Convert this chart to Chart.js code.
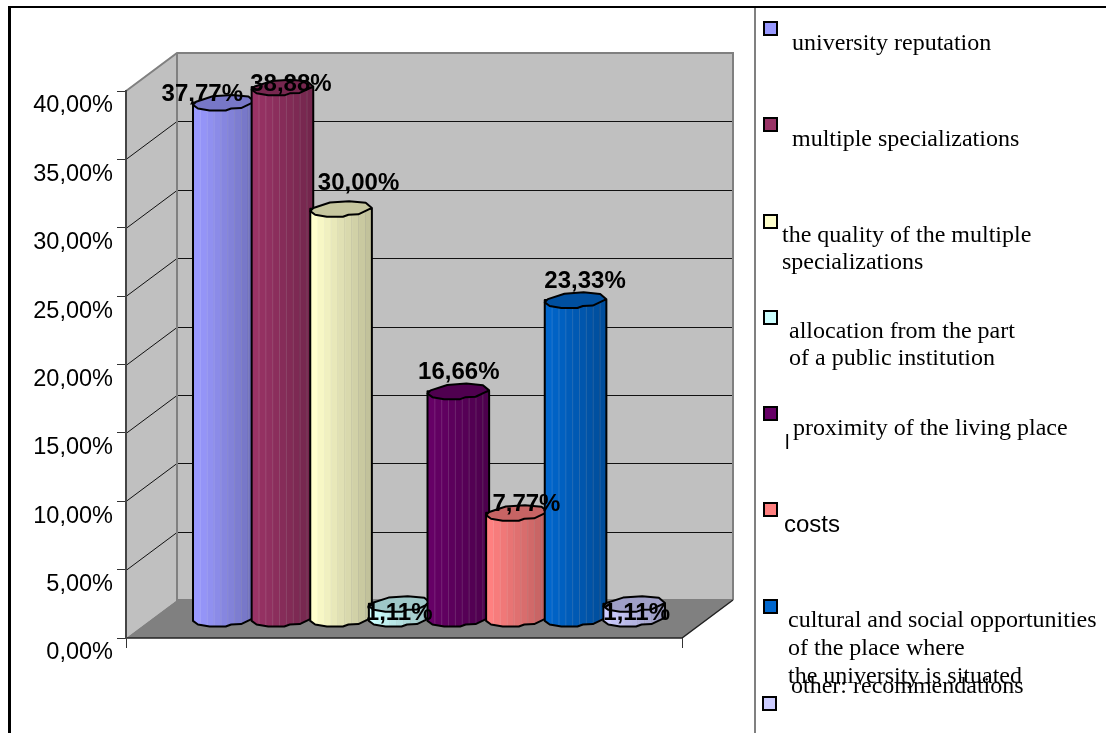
<!DOCTYPE html>
<html>
<head>
<meta charset="utf-8">
<title>Chart</title>
<script src="https://cdn.jsdelivr.net/npm/chart.js@4"></script>
<style>
    html, body { margin: 0; padding: 0; background: #fff; overflow: hidden; }
    canvas { display: block; }
</style>
</head>
<body>
<canvas id="myChart" width="1106" height="733"></canvas>
<script>
// Data
const categories = ['university reputation', 'multiple specializations', 'the quality of the multiple specializations',
    'allocation from the part of a public institution', 'proximity of the living place', 'costs',
    'cultural and social opportunities of the place where the university is situated', 'other: recommendations'];
const seriesValues = [37.77, 38.88, 30.00, 1.11, 16.66, 7.77, 23.33, 1.11];
const valueLabels = ['37,77%', '38,88%', '30,00%', '1,11%', '16,66%', '7,77%', '23,33%', '1,11%'];
const yTickLabels = ['0,00%', '5,00%', '10,00%', '15,00%', '20,00%', '25,00%', '30,00%', '35,00%', '40,00%'];
const seriesColors = ['#9999FF', '#993366', '#FFFFCC', '#CCFFFF', '#660066', '#FF8080', '#0066CC', '#CCCCFF'];

// Layout of the fake 3D box
const depthX = 51, depthY = -38;     // front plane -> back wall
const barShiftX = 23.5, barShiftY = -19; // bars stand in the middle of the floor
const capH = 8;

// Hand placed labels, the source chart has them all over the place
const labelNudge = [[-20, -8], [10, -3], [19, -25], [1, 10], [2, -19], [11, -8], [11, -19], [4, 10]];

// Legend is placed by hand as well: swatch [x, y], then text lines [x, baseline, text]
const legendSwatches = [[764, 22], [764, 118], [764, 215], [764, 311], [764, 407], [764, 503], [764, 600], [763, 697]];
const legendLines = [
    [792, 50, 'university reputation'],
    [792, 146, 'multiple specializations'],
    [782, 242, 'the quality of the multiple'],
    [782, 269, 'specializations'],
    [789, 338, 'allocation from the part'],
    [789, 365, 'of a public institution'],
    [793, 435, 'proximity of the living place'],
    [788, 627, 'cultural and social opportunities'],
    [788, 655, 'of the place where'],
    [788, 683, 'the university is situated'],
    [791, 693, 'other: recommendations']
];

const upperEdge = [[1, -0.1], [0.9, -0.75], [0.63, -0.95], [0.32, -0.78], [0.05, -0.1], [0, 0.3]];
const lowerEdge = [[0, 0.3], [0.08, 0.75], [0.27, 1], [0.53, 1], [0.62, 0.75], [0.78, 0.7], [1, -0.1]];

function edge(ctx, pts, x0, w, yc, first) {
    pts.forEach(function (p, i) {
        const px = x0 + p[0] * w, py = yc + p[1] * capH;
        if (i === 0 && first) ctx.moveTo(px, py); else ctx.lineTo(px, py);
    });
}

// Turn a flat bar into the bumpy cylinder
function drawCylinder(ctx, el, color) {
    const x0 = el.x - el.width / 2, w = el.width + 3;

    ctx.beginPath();
    edge(ctx, [[0, 0]], x0, w, el.y, true);
    edge(ctx, lowerEdge, x0, w, el.base, false);
    edge(ctx, [[1, 0]], x0, w, el.y, false);
    ctx.closePath();
    ctx.fillStyle = color;
    ctx.fill();

    ctx.save();
    ctx.clip();
    const bands = 9;
    for (let b = 0; b < bands; b++) {
        ctx.fillStyle = 'rgba(0,0,0,' + (0.24 * b / (bands - 1)) + ')';
        ctx.fillRect(x0 + w * b / bands, el.y - capH, w / bands + 0.5, el.base - el.y + capH * 2);
        if (b > 0) {
            ctx.fillStyle = 'rgba(255,255,255,0.14)';
            ctx.fillRect(x0 + w * b / bands, el.y - capH, 1, el.base - el.y + capH * 2);
        }
    }
    ctx.restore();

    ctx.strokeStyle = '#000';
    ctx.lineWidth = 2;
    ctx.lineJoin = 'round';
    ctx.stroke();

    ctx.beginPath();
    edge(ctx, upperEdge, x0, w, el.y, true);
    edge(ctx, lowerEdge, x0, w, el.y, false);
    ctx.closePath();
    ctx.fillStyle = color;
    ctx.fill();
    ctx.fillStyle = 'rgba(0,0,0,0.22)';
    ctx.fill();
    ctx.stroke();
}

const box3d = {
    id: 'box3d',
    beforeDraw(chart) {
        const ctx = chart.ctx, y = chart.scales.y, a = chart.chartArea;
        const top = y.getPixelForValue(40), bot = y.getPixelForValue(0);

        ctx.save();
        // side wall and back wall
        ctx.fillStyle = '#C0C0C0';
        ctx.beginPath();
        ctx.moveTo(a.left, top); ctx.lineTo(a.left + depthX, top + depthY);
        ctx.lineTo(a.right + depthX, top + depthY); ctx.lineTo(a.right + depthX, bot + depthY);
        ctx.lineTo(a.left + depthX, bot + depthY); ctx.lineTo(a.left, bot);
        ctx.closePath(); ctx.fill();
        // floor
        ctx.fillStyle = '#808080';
        ctx.beginPath();
        ctx.moveTo(a.left, bot); ctx.lineTo(a.left + depthX, bot + depthY);
        ctx.lineTo(a.right + depthX, bot + depthY); ctx.lineTo(a.right, bot);
        ctx.closePath(); ctx.fill();

        // gridlines go round the corner
        ctx.strokeStyle = '#111'; ctx.lineWidth = 1;
        y.ticks.forEach(function (t) {
            if (t.value === 0 || t.value === 40) return;
            const py = Math.round(y.getPixelForValue(t.value)) + 0.5;
            ctx.beginPath();
            ctx.moveTo(a.left, py); ctx.lineTo(a.left + depthX, py + depthY);
            ctx.lineTo(a.right + depthX, py + depthY);
            ctx.stroke();
        });

        // wall edges
        ctx.strokeStyle = '#808080'; ctx.lineWidth = 2;
        ctx.beginPath();
        ctx.moveTo(a.left, top); ctx.lineTo(a.left + depthX, top + depthY);
        ctx.lineTo(a.right + depthX, top + depthY); ctx.lineTo(a.right + depthX, bot + depthY);
        ctx.moveTo(a.left + depthX, top + depthY); ctx.lineTo(a.left + depthX, bot + depthY);
        ctx.lineTo(a.right + depthX, bot + depthY);
        ctx.stroke();

        // floor edges and the two bottom ticks
        ctx.strokeStyle = '#222'; ctx.lineWidth = 1.5;
        ctx.beginPath();
        ctx.moveTo(a.left, bot); ctx.lineTo(a.right, bot); ctx.lineTo(a.right + depthX, bot + depthY);
        ctx.stroke();
        ctx.strokeStyle = '#333'; ctx.lineWidth = 1;
        ctx.beginPath();
        ctx.moveTo(a.left + 0.5, bot); ctx.lineTo(a.left + 0.5, bot + 10);
        ctx.moveTo(a.right + 0.5, bot); ctx.lineTo(a.right + 0.5, bot + 10);
        ctx.stroke();

        // frame round the picture
        ctx.fillStyle = '#000';
        ctx.fillRect(8, 6, 1098, 2);
        ctx.fillRect(8, 6, 3, 727);
        ctx.fillStyle = '#808080';
        ctx.fillRect(754, 8, 2, 725);
        ctx.restore();
    },
    beforeDatasetDraw(chart) {
        chart.ctx.save();
        chart.ctx.translate(barShiftX, barShiftY);
    },
    afterDatasetDraw(chart) {
        chart.ctx.restore();
    },
    afterDatasetsDraw(chart) {
        const ctx = chart.ctx;
        // left to right, each bar overlaps the one before it
        ctx.save();
        ctx.translate(barShiftX, barShiftY);
        seriesColors.forEach(function (color, i) {
            drawCylinder(ctx, chart.getDatasetMeta(i).data[0], color);
        });
        ctx.restore();

        // value labels on top of everything
        ctx.save();
        ctx.font = 'bold 24px "Liberation Sans"';
        ctx.fillStyle = '#000';
        ctx.textAlign = 'center';
        ctx.textBaseline = 'middle';
        valueLabels.forEach(function (txt, i) {
            const el = chart.getDatasetMeta(i).data[0];
            ctx.fillText(txt, el.x + barShiftX + labelNudge[i][0], el.y + barShiftY + labelNudge[i][1]);
        });
        ctx.restore();
    },
    afterDraw(chart) {
        // legend
        const ctx = chart.ctx;
        ctx.save();
        legendSwatches.forEach(function (s, i) {
            ctx.fillStyle = seriesColors[i];
            ctx.fillRect(s[0], s[1], 13, 13);
            ctx.strokeStyle = '#000';
            ctx.lineWidth = 2;
            ctx.strokeRect(s[0], s[1], 13, 13);
        });
        ctx.fillStyle = '#000';
        ctx.textAlign = 'left';
        ctx.textBaseline = 'alphabetic';
        ctx.font = '24px "Liberation Serif"';
        legendLines.forEach(function (l) {
            ctx.fillText(l[2], l[0], l[1]);
        });
        ctx.font = '24px "Liberation Sans"';
        ctx.fillText('costs', 784, 532);
        ctx.font = '20px "Liberation Sans"';
        ctx.fillText('l', 785, 449);
        ctx.restore();
    }
};

new Chart(document.getElementById('myChart').getContext('2d'), {
    type: 'bar',
    data: {
        labels: [''],
        datasets: categories.map(function (name, i) {
            return {
                label: name,
                data: [seriesValues[i]],
                backgroundColor: seriesColors[i],
                clip: false
            };
        })
    },
    options: {
        responsive: false,
        animation: false,
        layout: { padding: { left: 0, right: 424, top: 91, bottom: 95 } },
        categoryPercentage: 0.8435,
        barPercentage: 1,
        plugins: { legend: { display: false }, tooltip: { enabled: false } },
        scales: {
            x: { display: false },
            y: {
                min: 0,
                max: 40,
                afterFit: function (scale) { scale.width = 126; },
                border: { color: '#444', width: 2 },
                grid: { drawOnChartArea: false, color: '#333', tickLength: 9 },
                ticks: {
                    stepSize: 5,
                    padding: 4,
                    labelOffset: 15,
                    color: '#000',
                    font: { family: '"Liberation Sans"', size: 23.5 },
                    callback: function (value, index) { return yTickLabels[index]; }
                }
            }
        }
    },
    plugins: [box3d]
});
</script>
</body>
</html>
